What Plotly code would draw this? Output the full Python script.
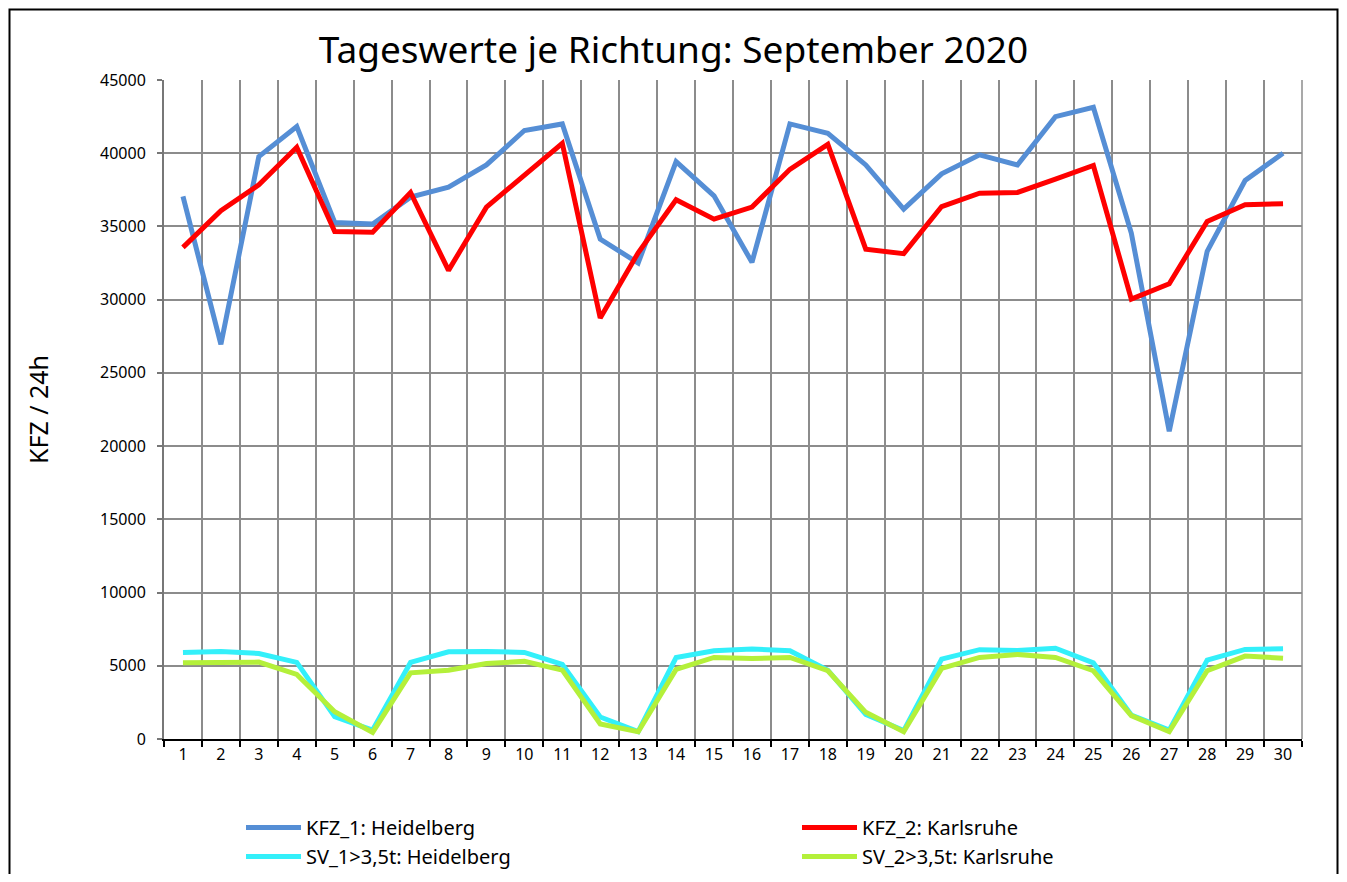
import plotly.graph_objects as go

days = list(range(1, 31))
tick_labels = [str(d) for d in days]

kfz_1_heidelberg = [37050, 26950, 39770, 41820, 35270, 35160, 37000, 37680, 39200, 41550,
                    42000, 34140, 32500, 39430, 37090, 32550, 42000, 41360, 39200, 36180,
                    38590, 39890, 39200, 42500, 43140, 34550, 21020, 33300, 38140, 40000]
kfz_2_karlsruhe = [33570, 36070, 37840, 40410, 34660, 34610, 37320, 32000, 36320, 38450,
                   40680, 28750, 33200, 36820, 35500, 36320, 38900, 40610, 33450, 33140,
                   36360, 37270, 37320, 38230, 39160, 30040, 31090, 35340, 36480, 36550]
sv_1_heidelberg = [5910, 5980, 5840, 5230, 1520, 610, 5230, 5950, 5980, 5910,
                   5090, 1500, 500, 5560, 6020, 6150, 6020, 4700, 1680, 570,
                   5450, 6100, 6050, 6200, 5200, 1640, 610, 5390, 6120, 6160]
sv_2_karlsruhe = [5200, 5250, 5250, 4410, 1860, 450, 4520, 4700, 5160, 5300,
                  4700, 1020, 500, 4750, 5570, 5500, 5570, 4660, 1820, 500,
                  4820, 5570, 5770, 5570, 4660, 1600, 500, 4660, 5660, 5520]

series = [
    ("KFZ_1: Heidelberg", kfz_1_heidelberg, "#558ED5", "legend"),
    ("KFZ_2: Karlsruhe", kfz_2_karlsruhe, "#FF0000", "legend2"),
    ("SV_1>3,5t: Heidelberg", sv_1_heidelberg, "#33F0FA", "legend"),
    ("SV_2>3,5t: Karlsruhe", sv_2_karlsruhe, "#B4F03A", "legend2"),
]

fig = go.Figure()
for name, vals, color, lg in series:
    fig.add_trace(go.Scatter(x=days, y=vals, mode="lines", name=name, legend=lg,
                             line=dict(color=color, width=5)))

# page offset of the figure inside the html body
OFF = 8
W, H = 1347 - 2 * OFF, 882 - 2 * OFF
L = 164 - OFF
T = 80 - OFF
R = W - (1302 - OFF)
B = H - (739 - OFF)
pw, ph = W - L - R, H - T - B

def px_x(x):
    return (x - OFF - L) / pw

def px_y(y):
    return (H - B - (y - OFF)) / ph

legend_common = dict(orientation="v", xanchor="left", yanchor="top", font=dict(size=20),
                     itemwidth=55, tracegroupgap=0, bgcolor="rgba(0,0,0,0)")

fig.update_layout(
    width=W, height=H,
    margin=dict(l=L, r=R, t=T, b=B, autoexpand=False),
    paper_bgcolor="white", plot_bgcolor="white",
    font=dict(family="Noto Sans", color="black"),
    title=dict(text="Tageswerte je Richtung: September 2020", x=0.5, xanchor="center",
               y=1 - (50 - OFF) / H, yanchor="middle", font=dict(size=37, color="black")),
    showlegend=True,
    legend=dict(x=px_x(241), y=px_y(808), **legend_common),
    legend2=dict(x=px_x(797), y=px_y(808), **legend_common),
    xaxis=dict(range=[0.5, 30.5], tickmode="array", tickvals=days, ticktext=tick_labels,
               showgrid=False, ticks="", tickfont=dict(size=16), zeroline=False,
               showline=True, linecolor="black", linewidth=2,
               minor=dict(tick0=0.5, dtick=1, showgrid=True, gridcolor="#8C8C8C",
                          gridwidth=1.5, ticks="outside", ticklen=6, tickcolor="black",
                          tickwidth=2)),
    yaxis=dict(range=[0, 45000], dtick=5000, tickformat="d", showgrid=True,
               gridcolor="#8C8C8C", gridwidth=1.5,
               ticks="outside", ticklen=5, tickcolor="#777777", tickwidth=1.5,
               tickfont=dict(size=16), zeroline=False, showline=True, linecolor="#777777",
               linewidth=2, ticklabelstandoff=8,
               title=dict(text="KFZ / 24h", font=dict(size=25), standoff=44)),
    shapes=[
        dict(type="rect", xref="paper", yref="paper", x0=px_x(OFF + 1.5), x1=px_x(1347 - OFF - 1.5),
             y0=px_y(940), y1=px_y(OFF + 1.5), line=dict(color="black", width=2), layer="below"),
        dict(type="line", xref="paper", yref="paper", x0=1, x1=1, y0=0, y1=1,
             line=dict(color="#8C8C8C", width=1.5), layer="below"),
    ],
)

fig.write_html("out.html")
